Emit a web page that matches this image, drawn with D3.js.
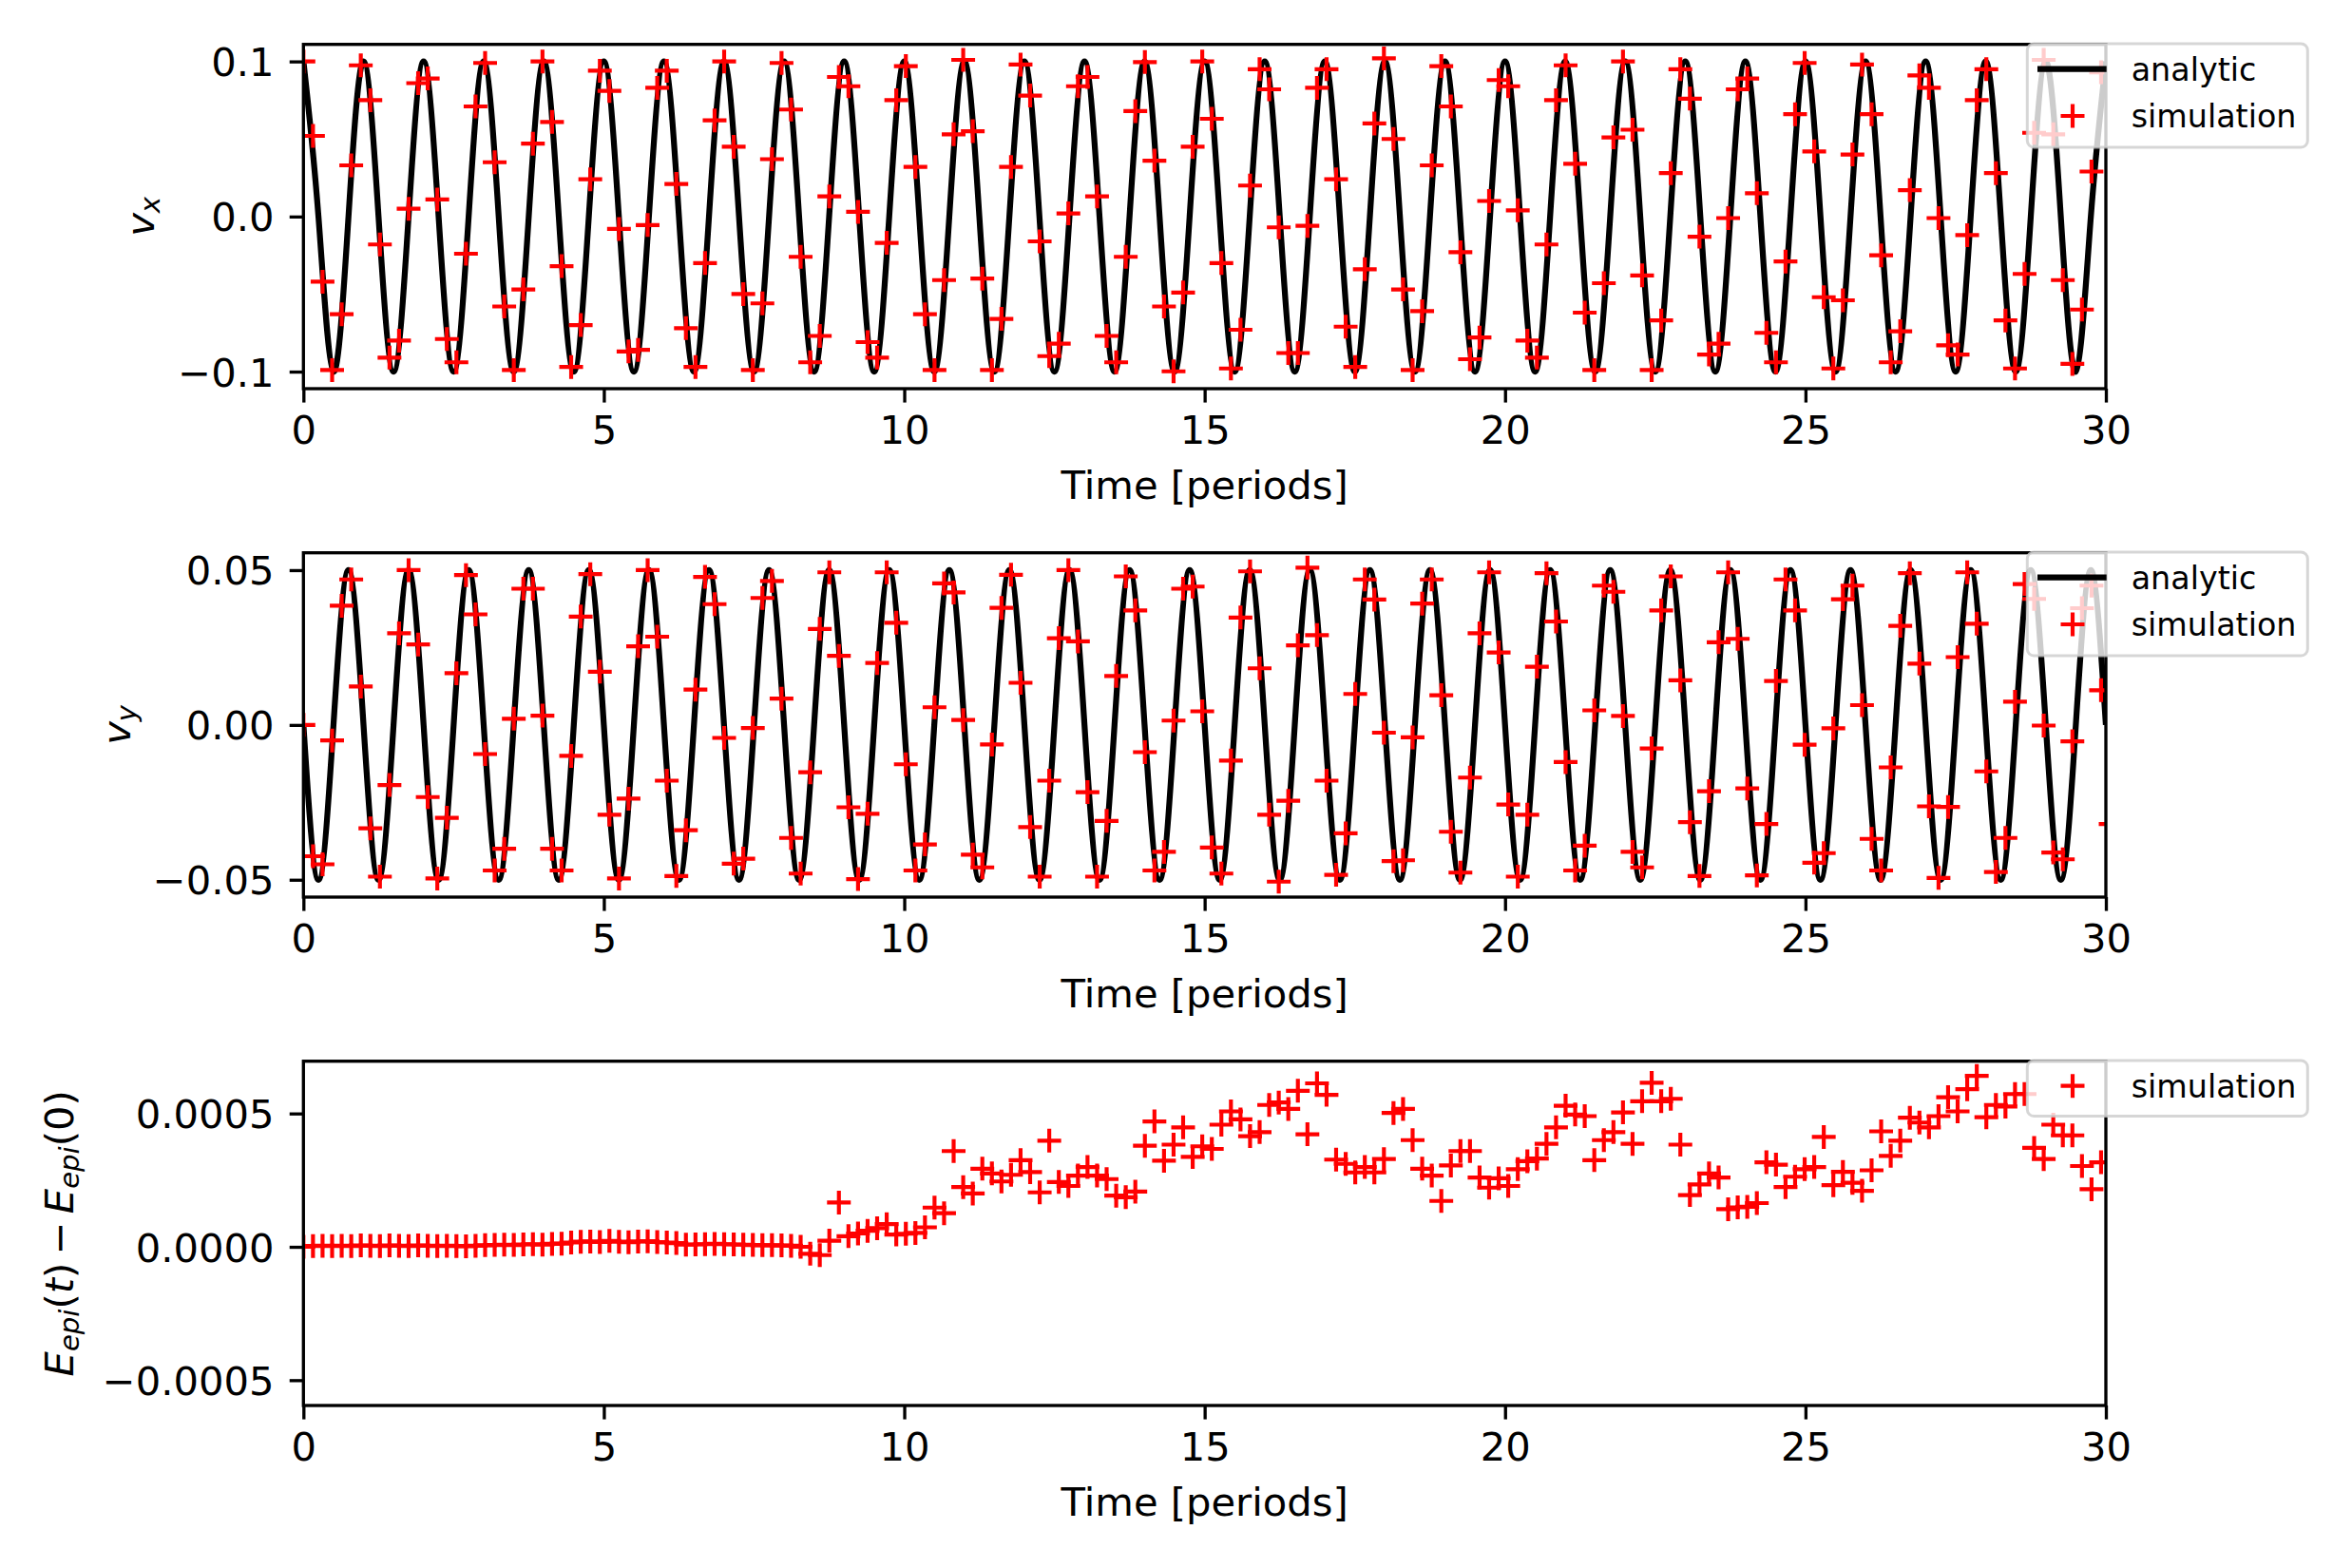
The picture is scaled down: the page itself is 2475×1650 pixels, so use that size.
<!DOCTYPE html>
<html>
<head>
<meta charset="utf-8">
<script src="https://cdn.jsdelivr.net/npm/d3@7"></script>
<style>
  body { margin: 0; background: #fff; }
  text { font-family: "DejaVu Sans", sans-serif; }
</style>
</head>
<body>
<svg id="fig" width="2475" height="1650"></svg>
<script>
// spacing between samples, in periods
const simStep = 0.15915;
const analyticStep = 0.25;

// analytic curves, sampled every quarter period
const vxAnalytic = [
  0.1,0,-0.1,0, 0.1,0,-0.1,0, 0.1,0,-0.1,0, 0.1,0,-0.1,0, 0.1,0,-0.1,0,
  0.1,0,-0.1,0, 0.1,0,-0.1,0, 0.1,0,-0.1,0, 0.1,0,-0.1,0, 0.1,0,-0.1,0,
  0.1,0,-0.1,0, 0.1,0,-0.1,0, 0.1,0,-0.1,0, 0.1,0,-0.1,0, 0.1,0,-0.1,0,
  0.1,0,-0.1,0, 0.1,0,-0.1,0, 0.1,0,-0.1,0, 0.1,0,-0.1,0, 0.1,0,-0.1,0,
  0.1,0,-0.1,0, 0.1,0,-0.1,0, 0.1,0,-0.1,0, 0.1,0,-0.1,0, 0.1,0,-0.1,0,
  0.1,0,-0.1,0, 0.1,0,-0.1,0, 0.1,0,-0.1,0, 0.1,0,-0.1,0, 0.1,0,-0.1,0,
  0.1
];
const vyAnalytic = [
  0,-0.05,0,0.05, 0,-0.05,0,0.05, 0,-0.05,0,0.05, 0,-0.05,0,0.05, 0,-0.05,0,0.05,
  0,-0.05,0,0.05, 0,-0.05,0,0.05, 0,-0.05,0,0.05, 0,-0.05,0,0.05, 0,-0.05,0,0.05,
  0,-0.05,0,0.05, 0,-0.05,0,0.05, 0,-0.05,0,0.05, 0,-0.05,0,0.05, 0,-0.05,0,0.05,
  0,-0.05,0,0.05, 0,-0.05,0,0.05, 0,-0.05,0,0.05, 0,-0.05,0,0.05, 0,-0.05,0,0.05,
  0,-0.05,0,0.05, 0,-0.05,0,0.05, 0,-0.05,0,0.05, 0,-0.05,0,0.05, 0,-0.05,0,0.05,
  0,-0.05,0,0.05, 0,-0.05,0,0.05, 0,-0.05,0,0.05, 0,-0.05,0,0.05, 0,-0.05,0,0.05,
  0
];

// simulation samples
const vxSim = [
  0.1, 0.052, -0.042, -0.099, -0.063, 0.033, 0.0975, 0.075, -0.018, -0.091,
  -0.08, 0.005, 0.086, 0.089, 0.011, -0.079, -0.094, -0.024, 0.071, 0.099,
  0.035, -0.058, -0.099, -0.047, 0.047, 0.1, 0.061, -0.032, -0.097, -0.07,
  0.024, 0.094, 0.081, -0.008, -0.087, -0.086, -0.0055, 0.083, 0.094, 0.021,
  -0.072, -0.097, -0.03, 0.062, 0.1, 0.045, -0.05, -0.099, -0.056, 0.037,
  0.099, 0.069, -0.026, -0.094, -0.077, 0.013, 0.09, 0.084, 0.003, -0.081,
  -0.091, -0.017, 0.075, 0.097, 0.032, -0.063, -0.099, -0.041, 0.053, 0.101,
  0.055, -0.04, -0.099, -0.066, 0.032, 0.098, 0.078, -0.016, -0.09, -0.082,
  0.002, 0.084, 0.09, 0.013, -0.077, -0.094, -0.026, 0.068, 0.0996, 0.036,
  -0.058, -0.0998, -0.049, 0.045, 0.1, 0.063, -0.03, -0.098, -0.073, 0.02,
  0.095, 0.082, -0.007, -0.088, -0.088, -0.006, 0.083, 0.095, 0.024, -0.071,
  -0.097, -0.034, 0.06, 0.102, 0.05, -0.047, -0.099, -0.061, 0.033, 0.097,
  0.071, -0.023, -0.092, -0.078, 0.01, 0.088, 0.084, 0.004, -0.08, -0.091,
  -0.018, 0.075, 0.0975, 0.034, -0.062, -0.099, -0.043, 0.051, 0.1, 0.056,
  -0.038, -0.099, -0.067, 0.028, 0.095, 0.076, -0.013, -0.089, -0.082, -0.001,
  0.082, 0.089, 0.015, -0.075, -0.094, -0.029, 0.066, 0.099, 0.042, -0.052,
  -0.098, -0.054, 0.04, 0.098, 0.066, -0.025, -0.094, -0.074, 0.017, 0.091,
  0.083, -0.001, -0.083, -0.089, -0.012, 0.075, 0.095, 0.028, -0.067, -0.098,
  -0.037, 0.054, 0.101, 0.053, -0.041, -0.095, -0.06, 0.029, 0.093
];
const vySim = [
  0, -0.0424, -0.045, -0.005, 0.0385, 0.047, 0.0124, -0.0334, -0.049, -0.0194,
  0.0296, 0.05, 0.026, -0.0233, -0.0496, -0.03, 0.0167, 0.0484, 0.0357, -0.0094,
  -0.047, -0.04, 0.002, 0.044, 0.044, 0.003, -0.04, -0.047, -0.01, 0.035,
  0.0487, 0.0172, -0.029, -0.0496, -0.0238, 0.0254, 0.05, 0.0285, -0.018, -0.0488,
  -0.034, 0.0114, 0.0478, 0.039, -0.0042, -0.0448, -0.0432, -0.001, 0.041, 0.0465,
  0.0085, -0.0365, -0.048, -0.0153, 0.031, 0.0493, 0.0223, -0.0266, -0.0498, -0.0287,
  0.02, 0.0493, 0.033, -0.0127, -0.047, -0.0386, 0.0057, 0.0457, 0.0428, 0.0016,
  -0.0419, -0.046, -0.0063, 0.0378, 0.0485, 0.0136, -0.033, -0.049, -0.018, 0.028,
  0.05, 0.027, -0.0217, -0.049, -0.031, 0.0158, 0.048, 0.037, -0.0088, -0.047,
  -0.041, 0.0014, 0.044, 0.0447, 0.0044, -0.0396, -0.048, -0.0115, 0.0347, 0.0496,
  0.0183, -0.029, -0.0506, -0.0245, 0.0257, 0.0508, 0.029, -0.018, -0.0484, -0.035,
  0.01, 0.047, 0.0405, -0.0025, -0.044, -0.0437, -0.004, 0.0392, 0.047, 0.0096,
  -0.0345, -0.0477, -0.017, 0.0296, 0.0493, 0.0234, -0.0257, -0.049, -0.029, 0.0188,
  0.049, 0.0334, -0.012, -0.047, -0.039, 0.0047, 0.045, 0.043, 0.0029, -0.041,
  -0.046, -0.0076, 0.037, 0.048, 0.0144, -0.0314, -0.0488, -0.0214, 0.0267, 0.0493,
  0.0278, -0.0205, -0.0486, -0.032, 0.0142, 0.047, 0.037, -0.0064, -0.0445, -0.0414,
  -0.0011, 0.0406, 0.045, 0.0064, -0.0368, -0.047, -0.0137, 0.032, 0.049, 0.0198,
  -0.0263, -0.0494, -0.0265, 0.0219, 0.0493, 0.0327, -0.015, -0.0475, -0.0365, 0.0075,
  0.0455, 0.0407, -0.0002, -0.0412, -0.0434, -0.0053, 0.0377, 0.045, 0.0112, -0.032
];
const energySim = [
  0, 0.000003, 0.000004, 0.000003, 0.000004, 0.000003, 0.000005, 0.000004, 0.000003, 0.000005,
  0.000004, 0.000003, 0.000005, 0.000004, 0.000003, 0.000004, 0.000003, 0.000002, 0.000004, 0.000006,
  0.000007, 0.000008, 0.000007, 0.000009, 0.00001, 0.000008, 0.000011, 0.000012, 0.000016, 0.000019,
  0.00002, 0.000018, 0.000022, 0.000019, 0.000017, 0.00002, 0.000021, 0.000018, 0.000016, 0.000014,
  0.000008, 0.000009, 0.00001, 0.000011, 0.00001, 0.000009, 0.000008, 0.000007, 0.000006, 0.000006,
  0.000005, 0.000004, 0, -0.000026, -0.000031, 0.000023, 0.000166, 0.00004, 0.00005, 0.00006,
  0.00007, 0.000085, 0.000046, 0.000049, 0.000052, 0.000073, 0.000147, 0.000126, 0.000359, 0.000224,
  0.0002, 0.000293, 0.000275, 0.000245, 0.00027, 0.000325, 0.00028, 0.000204, 0.000398, 0.000243,
  0.000228, 0.000267, 0.000299, 0.000267, 0.000254, 0.000192, 0.000186, 0.000207, 0.000379, 0.00047,
  0.000323, 0.000383, 0.000448, 0.000337, 0.000377, 0.000367, 0.000458, 0.000508, 0.000478, 0.000415,
  0.00043, 0.000532, 0.000541, 0.000517, 0.000585, 0.000422, 0.000613, 0.00057, 0.000327, 0.000311,
  0.000279, 0.000299, 0.000279, 0.000329, 0.000502, 0.000517, 0.0004, 0.000293, 0.000267, 0.000172,
  0.000305, 0.000359, 0.000359, 0.00026, 0.000222, 0.000257, 0.000228, 0.000291, 0.000321, 0.000331,
  0.000386, 0.000448, 0.000529, 0.000496, 0.00049, 0.000325, 0.0004, 0.00043, 0.000504, 0.000386,
  0.000546, 0.000615, 0.000546, 0.000555, 0.000383, 0.000194, 0.000234, 0.000275, 0.00026, 0.000141,
  0.000148, 0.00015, 0.000164, 0.000317, 0.000308, 0.000224, 0.000263, 0.000291, 0.000299, 0.000412,
  0.000231, 0.000281, 0.00024, 0.00021, 0.000287, 0.000433, 0.000341, 0.000398, 0.000484, 0.000466,
  0.000448, 0.00049, 0.000561, 0.000508, 0.000591, 0.000641, 0.000486, 0.000532, 0.000526, 0.000573,
  0.000573, 0.000371, 0.000329, 0.000458, 0.000418, 0.000418, 0.000303, 0.000216, 0.000317
];

// ticks and axis ranges
const xDomain = [0, 30];
const xTicks = [0, 5, 10, 15, 20, 25, 30];
const vxDomain = [-0.111, 0.111];
const vxTicks = [-0.1, 0, 0.1];
const vxTickLabels = ["\u22120.1", "0.0", "0.1"];
const vyDomain = [-0.0556, 0.0556];
const vyTicks = [-0.05, 0, 0.05];
const vyTickLabels = ["\u22120.05", "0.00", "0.05"];
const eDomain = [-0.000595, 0.000696];
const eTicks = [-0.0005, 0, 0.0005];
const eTickLabels = ["\u22120.0005", "0.0000", "0.0005"];

// -----------------------------
// layout (matplotlib-like, 300 dpi)
// -----------------------------
const pt = 300 / 72;
const axLeft = 319.3, axWidth = 1896.7, axHeight = 362.3;
const fontSize = 10 * pt, legendFont = 8 * pt;
const tickLen = 3.5 * pt, spineW = 0.8 * pt;
const lineW = 1.5 * pt, markHalf = 3 * pt, markW = 1 * pt;

const svg = d3.select("#fig");

const panels = [
  { top: 46.7, yDomain: vxDomain, yTicks: vxTicks, yLabels: vxTickLabels,
    analytic: vxAnalytic, sim: vxSim, ylabelX: 162,
    ylabel: [{ t: "v", it: true }, { t: "x", it: true, sub: true }] },
  { top: 581.7, yDomain: vyDomain, yTicks: vyTicks, yLabels: vyTickLabels,
    analytic: vyAnalytic, sim: vySim, ylabelX: 137,
    ylabel: [{ t: "v", it: true }, { t: "y", it: true, sub: true }] },
  { top: 1116.7, yDomain: eDomain, yTicks: eTicks, yLabels: eTickLabels,
    analytic: null, sim: energySim, ylabelX: 77,
    ylabel: [{ t: "E", it: true }, { t: "epi", it: true, sub: true }, { t: "(" },
             { t: "t", it: true }, { t: ")\u2009\u2212\u2009" }, { t: "E", it: true },
             { t: "epi", it: true, sub: true }, { t: "(0)" }] }
];

panels.forEach((p, k) => drawPanel(p, k));
panels.forEach((p, k) => drawLegend(p, k));

function drawPanel(p, k) {
  const g = svg.append("g").attr("transform", `translate(${axLeft},${p.top})`);

  const x = d3.scaleLinear().domain(xDomain).range([0, axWidth]);
  const y = d3.scaleLinear().domain(p.yDomain).range([axHeight, 0]);

  svg.append("clipPath").attr("id", "clip" + k)
    .append("rect").attr("width", axWidth).attr("height", axHeight);

  const plot = g.append("g").attr("clip-path", `url(#clip${k})`);

  // analytic solution
  if (p.analytic) {
    const line = d3.line()
      .x((d, i) => x(i * analyticStep))
      .y(d => y(d))
      .curve(d3.curveNatural);
    plot.append("path")
      .datum(p.analytic)
      .attr("d", line)
      .attr("fill", "none")
      .attr("stroke", "#000")
      .attr("stroke-width", lineW)
      .attr("stroke-linejoin", "round");
  }

  // simulation "+" markers
  plot.append("g").selectAll("path")
    .data(p.sim)
    .join("path")
    .attr("d", (d, i) => {
      const cx = x(i * simStep), cy = y(d);
      return `M${cx - markHalf},${cy}H${cx + markHalf}M${cx},${cy - markHalf}V${cy + markHalf}`;
    })
    .attr("fill", "none")
    .attr("stroke", "#ff0000")
    .attr("stroke-width", markW);

  // Axes
  const xAxis = g.append("g")
    .attr("transform", `translate(0,${axHeight})`)
    .call(d3.axisBottom(x).tickValues(xTicks).tickFormat(d3.format("d"))
      .tickSize(tickLen).tickSizeOuter(0).tickPadding(13.8));
  const yAxis = g.append("g")
    .call(d3.axisLeft(y).tickValues(p.yTicks).tickFormat((d, i) => p.yLabels[i])
      .tickSize(tickLen).tickSizeOuter(0).tickPadding(16.3));

  [xAxis, yAxis].forEach(a => {
    a.select(".domain").remove();
    a.attr("font-family", null).attr("font-size", null);
    a.selectAll("line").attr("stroke", "#000").attr("stroke-width", spineW);
    a.selectAll("text").attr("fill", "#000").style("font-size", fontSize + "px");
  });
  yAxis.selectAll("text").attr("dy", "0.36em");

  // frame
  g.append("rect")
    .attr("width", axWidth).attr("height", axHeight)
    .attr("fill", "none").attr("stroke", "#000").attr("stroke-width", spineW);

  // x label
  g.append("text")
    .attr("x", axWidth / 2).attr("y", axHeight + 116)
    .attr("text-anchor", "middle")
    .style("font-size", fontSize + "px")
    .text("Time [periods]");

  // y label (mathtext-like)
  const yl = svg.append("text")
    .attr("transform", `translate(${p.ylabelX},${p.top + axHeight / 2}) rotate(-90)`)
    .attr("text-anchor", "middle")
    .style("font-size", fontSize + "px");
  const subShift = 6;
  let shifted = false;
  p.ylabel.forEach(part => {
    const ts = yl.append("tspan").text(part.t);
    if (part.it) ts.attr("font-style", "italic");
    if (part.sub) {
      ts.style("font-size", (fontSize * 0.7) + "px").attr("dy", shifted ? 0 : subShift);
      shifted = true;
    } else if (shifted) {
      ts.attr("dy", -subShift);
      shifted = false;
    }
  });
}

function drawLegend(p, k) {
  const withLine = !!p.analytic;
  const bx = axLeft + axWidth - 82.7, by = p.top - 0.7;
  const bh = withLine ? 109 : 58.5;
  const lg = svg.append("g").attr("transform", `translate(${bx},${by})`);

  lg.append("rect")
    .attr("width", 295).attr("height", bh).attr("rx", 7)
    .attr("fill", "#fff").attr("fill-opacity", 0.8)
    .attr("stroke", "#cccccc").attr("stroke-opacity", 0.8).attr("stroke-width", 3);

  let row = 0;
  const rowGap = 49.3;
  if (withLine) {
    lg.append("line")
      .attr("x1", 10.7).attr("x2", 83.4).attr("y1", 26.7).attr("y2", 26.7)
      .attr("stroke", "#000").attr("stroke-width", lineW);
    lg.append("text").attr("x", 109.4).attr("y", 39)
      .style("font-size", legendFont + "px").text("analytic");
    row = 1;
  }
  const my = 26.7 + row * rowGap, mx = 47.7;
  lg.append("path")
    .attr("d", `M${mx - markHalf},${my}H${mx + markHalf}M${mx},${my - markHalf}V${my + markHalf}`)
    .attr("stroke", "#ff0000").attr("stroke-width", markW).attr("fill", "none");
  lg.append("text").attr("x", 109.4).attr("y", 39 + row * rowGap)
    .style("font-size", legendFont + "px").text("simulation");
}
</script>
</body>
</html>
